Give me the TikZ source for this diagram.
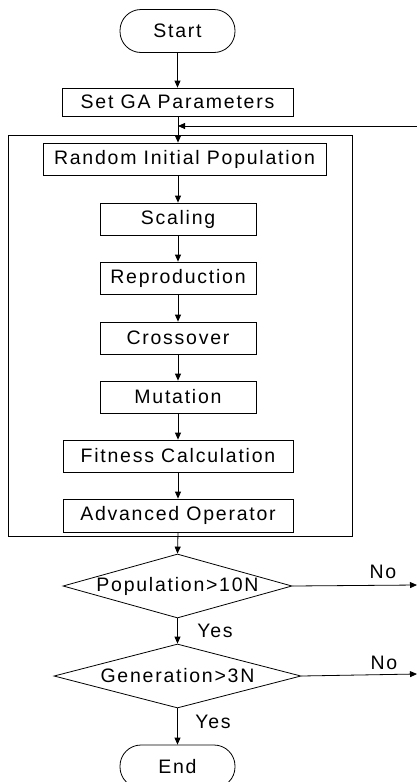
\documentclass[tikz,border=0pt]{standalone}
\usepackage{fontspec}
\setmainfont{Liberation Sans}[LetterSpace=9]
\usetikzlibrary{arrows.meta,shapes.geometric}
\begin{document}
\begin{tikzpicture}[x=1pt,y=-1pt,
  font=\fontsize{19.5pt}{21pt}\selectfont,
  line width=0.8pt,
  box/.style={draw, rectangle, inner sep=0pt},
  term/.style={draw, rectangle, rounded corners=21pt, minimum width=115pt, minimum height=43pt, inner sep=0pt},
  dec/.style={draw, diamond, inner sep=0pt, minimum height=64pt},
  arr/.style={-{Triangle[length=7pt,width=6pt]}},
  lbl/.style={inner sep=0pt}]
\useasboundingbox (0,0) rectangle (417,782);

\node[term] (start) at (177.5,31) {Start};
\node[box, minimum width=231pt, minimum height=28pt] (setga) at (177.5,102) {Set GA Parameters};
\node[draw, rectangle, inner sep=0pt, minimum width=344pt, minimum height=401pt] (loop) at (180,335.5) {};
\node[box, minimum width=283pt, minimum height=32pt] (rip) at (184.5,159) {Random Initial Population};
\node[box, minimum width=156pt, minimum height=32pt] (scal) at (178,219) {Scaling};
\node[box, minimum width=156pt, minimum height=32pt] (repr) at (178,278) {Reproduction};
\node[box, minimum width=156pt, minimum height=32pt] (cros) at (178,338) {Crossover};
\node[box, minimum width=156pt, minimum height=32pt] (muta) at (178,397) {Mutation};
\node[box, minimum width=230pt, minimum height=32pt] (fitn) at (178,456) {Fitness Calculation};
\node[box, minimum width=230pt, minimum height=33pt] (adv) at (178,515.5) {Advanced Operator};

\node[dec, minimum width=229pt] (d1) at (177.5,586) {};
\node[lbl] (d1t) at (177.5,586) {Population>10N};
\node[dec, minimum width=247pt] (d2) at (177.5,676) {};
\node[lbl] (d2t) at (177.5,676) {Generation>3N};
\node[term] (end) at (177.5,766.5) {End};

\node[lbl] (yes1) at (215,631) {Yes};
\node[lbl] (yes2) at (213,722) {Yes};
\node[lbl] (no1) at (383,572) {No};
\node[lbl] (no2) at (384,663) {No};

\coordinate (fbin) at (417,126);
\coordinate (fbj) at (178,126);
\coordinate (no1end) at (417,585);
\coordinate (no2end) at (417,674);

\draw[arr] (start.south) -- (start.south |- setga.north);
\draw[arr] (setga.south -| fbj) -- (fbj |- rip.north);
\draw[arr] (fbin) -- (fbj);
\draw[arr] (fbj |- rip.south) -- (scal.north);
\draw[arr] (scal) -- (repr);
\draw[arr] (repr) -- (cros);
\draw[arr] (cros) -- (muta);
\draw[arr] (muta) -- (fitn);
\draw[arr] (fitn) -- (adv);
\draw[arr] (adv.south) -- (d1.north);
\draw[arr] (d1.south) -- (d2.north);
\draw[arr] (d2.south) -- (end.north);
\draw[arr] (d1.east) -- (no1end);
\draw[arr] (d2.east) -- (no2end);
\end{tikzpicture}
\end{document}
